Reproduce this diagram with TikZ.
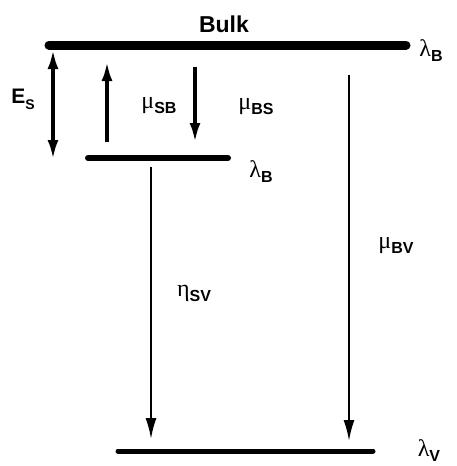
\documentclass[tikz,border=0pt]{standalone}
\usepackage{fontspec}
\setmainfont{Liberation Sans}
\newfontfamily\greekfont{Liberation Serif}
\usetikzlibrary{arrows.meta, positioning}

\newcommand{\rate}[2]{{\greekfont\fontsize{24}{26}\selectfont #1}\raisebox{-5pt}{\bfseries\fontsize{16}{18}\selectfont #2}}

\begin{document}
\begin{tikzpicture}[x=1pt, y=-1pt]
    % Stili
    \tikzstyle{level} = [line width=5pt, line cap=round]
    \tikzstyle{thick arrow} = [line width=3.4pt, -{Latex[length=19pt, width=11pt]}]
    \tikzstyle{thin arrow} = [line width=2pt, -{Latex[length=21pt, width=11pt]}]
    \tikzstyle{lbl} = [inner sep=0pt]

    \useasboundingbox (0,0) rectangle (456,466);

    % Livelli
    \coordinate (bulkL) at (49,45);
    \coordinate (bulkR) at (406,45);
    \coordinate (surfL) at (88,158);
    \coordinate (surfR) at (228,158);
    \coordinate (vacL) at (118,451);
    \coordinate (vacR) at (373,451);

    \draw [level, line width=9pt] (bulkL) -- (bulkR);
    \draw [level, line width=6pt] (surfL) -- (surfR);
    \draw [level] (vacL) -- (vacR);

    % Nodi
    \node [lbl, font=\bfseries\fontsize{23}{25}\selectfont] (bulk) at (224,24) {Bulk};
    \node [lbl] (lamB) at (431,51) {\rate{λ}{B}};
    \node [lbl] (lamS) at (261,172) {\rate{λ}{B}};
    \node [lbl] (lamV) at (429,451) {\rate{λ}{V}};
    \node [lbl] (es) at (23,99) {{\bfseries\fontsize{21}{23}\selectfont E}\raisebox{-6pt}{\bfseries\fontsize{14}{16}\selectfont S}};
    \node [lbl] (muSB) at (159,106) {\rate{μ}{SB}};
    \node [lbl] (muBS) at (256,107) {\rate{μ}{BS}};
    \node [lbl] (etaSV) at (194,293) {\rate{η}{SV}};
    \node [lbl] (muBV) at (396,246) {\rate{μ}{BV}};

    % Estremi frecce
    \coordinate (esT) at (53,50);
    \coordinate (esB) at (53,159);
    \coordinate (upB) at (107,142);
    \coordinate (upT) at (107,62);
    \coordinate (dnT) at (195,67);
    \coordinate (dnB) at (195,142);
    \coordinate (svT) at (151,167);
    \coordinate (svB) at (151,439);
    \coordinate (bvT) at (349,75);
    \coordinate (bvB) at (349,441);

    % Collegamenti
    \draw [thick arrow, {Latex[length=19pt, width=11pt]}-{Latex[length=19pt, width=11pt]}] (esT) -- (esB);
    \draw [thick arrow] (upB) -- (upT);
    \draw [thick arrow] (dnT) -- (dnB);
    \draw [thin arrow] (svT) -- (svB);
    \draw [thin arrow] (bvT) -- (bvB);

\end{tikzpicture}
\end{document}
